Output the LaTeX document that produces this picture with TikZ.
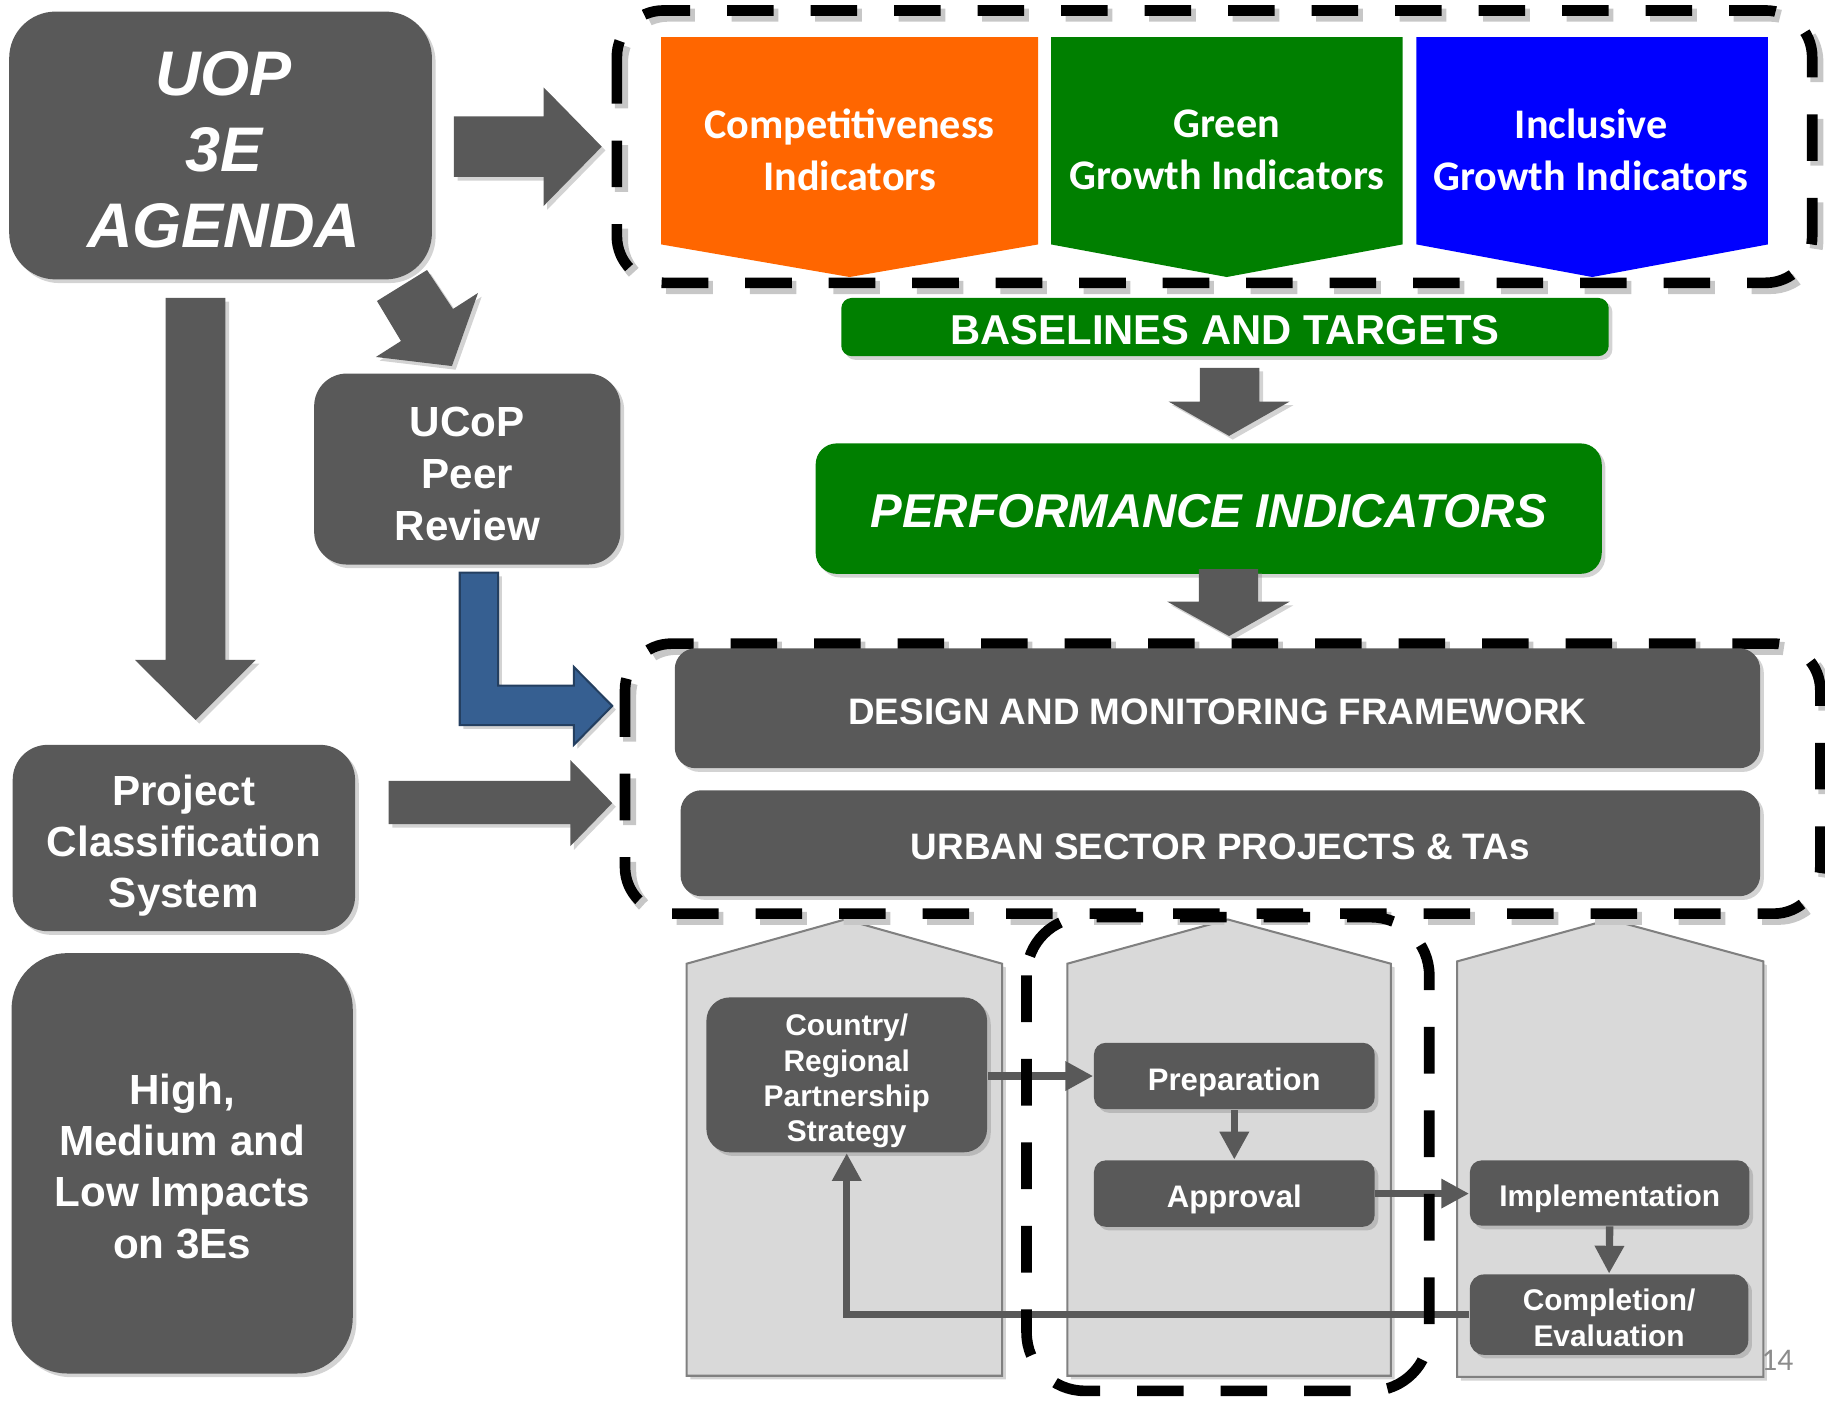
\documentclass[tikz,border=0pt]{standalone}
\usepackage{fontspec}
\setmainfont{Liberation Sans}
\newfontfamily\calibri{Carlito}
\usetikzlibrary{shadows,arrows.meta}

\definecolor{boxgray}{HTML}{595959}
\definecolor{mygreen}{HTML}{007F00}
\definecolor{myorange}{HTML}{FF6600}
\definecolor{myblue}{HTML}{0000FF}
\definecolor{steel}{HTML}{365F91}
\definecolor{steeledge}{HTML}{243F60}
\definecolor{housefill}{HTML}{D9D9D9}
\definecolor{houseline}{HTML}{808080}
\definecolor{pagegray}{HTML}{8C8C8C}

\newcommand\setfs[2]{\fontsize{#1}{#2}\selectfont}
% strut on a first line that lowers a text block by #1
\newcommand\lowerby[1]{\rule{0pt}{\dimexpr0.75em+#1*2\relax}}

\tikzset{
  every node/.style={inner sep=0pt},
  softshadow/.style={drop shadow={shadow xshift=0.9pt, shadow yshift=-0.9pt, opacity=0.35}},
  tdown/.style={execute at begin node={\lowerby{#1}}},
  gbox/.style={fill=boxgray, text=white, align=center, font=\bfseries, softshadow},
  greenbox/.style={gbox, fill=mygreen},
  blockarrow/.style={fill=boxgray, softshadow},
  dashframe/.style={line width=2.6pt, dash pattern=on 11.4pt off 9pt, black},
  dashshade/.style={line width=3.2pt, dash pattern=on 11.4pt off 9pt, black!22},
  house/.style={fill=housefill, draw=houseline, line width=0.5pt, softshadow},
  conn/.style={draw=boxgray, line width=1.8pt, -{Triangle[length=6.8pt,width=6.8pt]}},
  chevtext/.style={text=white, align=center, font=\calibri\bfseries\setfs{10.3}{12.8}},
}

\begin{document}
\begin{tikzpicture}[x=0.01cm, y=-0.01cm]
\useasboundingbox (0,0) rectangle (1568,1206);

% ---------- indicator chevrons ----------
\fill[myorange] (568,32) -- (892,32) -- (892,210) -- (730,238) -- (568,210) -- cycle;
\fill[mygreen]  (903,32) -- (1205,32) -- (1205,210) -- (1054,238) -- (903,210) -- cycle;
\fill[myblue]   (1217,32) -- (1519,32) -- (1519,210) -- (1368,238) -- (1217,210) -- cycle;
\node[chevtext] (compind) at (730,128.5) {Competitiveness\\Indicators};
\node[chevtext] (greenind) at (1054,128.5) {Green\\Growth Indicators};
\node[chevtext] (inclind) at (1367,128.5) {Inclusive\\Growth Indicators};

% dashed frame around the indicators
\draw[dashshade, rounded corners=0.4cm] (534,13) rectangle (1561,247);
\draw[dashframe, rounded corners=0.4cm] (530,9) rectangle (1557,243);

% ---------- left column ----------
\node[gbox, minimum width=3.63cm, minimum height=2.30cm, rounded corners=0.4cm,
      font=\bfseries\itshape\setfs{15.4}{18.5}] (uop) at (189.5,125)
      {\lowerby{0.6pt}\hspace*{1.5pt}UOP\\\hspace*{1.5pt}3E\\\hspace*{1.5pt}AGENDA};
\node[gbox, minimum width=2.63cm, minimum height=1.64cm, rounded corners=0.28cm,
      font=\bfseries\setfs{10.3}{12.7}] (ucop) at (401.5,403) {\lowerby{0.9pt}UCoP\\Peer\\Review};
\node[gbox, minimum width=2.94cm, minimum height=1.60cm, rounded corners=0.3cm,
      font=\bfseries\setfs{10.3}{12.5}] (pcs) at (158,720) {\lowerby{1.7pt}Project\\Classification\\System};
\node[gbox, minimum width=2.93cm, minimum height=3.61cm, rounded corners=0.48cm,
      font=\bfseries\setfs{10.3}{12.5}] (high) at (156.5,999.5) {\lowerby{0.6pt}High,\\Medium and\\Low Impacts\\on 3Es};

% ---------- centre column ----------
\node[greenbox, minimum width=6.59cm, minimum height=0.50cm, rounded corners=0.09cm, tdown=0.6pt,
      font=\bfseries\setfs{10.2}{12}] (base) at (1052.5,281) {BASELINES AND TARGETS};
\node[greenbox, minimum width=6.75cm, minimum height=1.12cm, rounded corners=0.18cm, tdown=0.4pt,
      font=\bfseries\itshape\setfs{11.6}{13}] (perf) at (1038.5,437) {PERFORMANCE INDICATORS};

% ---------- project cycle columns ----------
\path[house] (590,1182) -- (590,828) -- (726,790) -- (861,828) -- (861,1182) -- cycle;
\path[house] (917,1182) -- (917,828) -- (1055,790) -- (1195,828) -- (1195,1182) -- cycle;
\path[house] (1252,1183) -- (1252,826) -- (1383,790) -- (1515,826) -- (1515,1183) -- cycle;

% dashed frame around the framework boxes
\draw[dashshade, rounded corners=0.4cm] (541,557) rectangle (1568,789);
\draw[dashframe, rounded corners=0.4cm] (537,553) rectangle (1564,785);

\node[gbox, minimum width=9.32cm, minimum height=1.03cm, rounded corners=0.18cm, tdown=0.7pt,
      font=\bfseries\setfs{9}{11}] (dmf) at (1046,608.5) {DESIGN AND MONITORING FRAMEWORK};
\node[gbox, minimum width=9.27cm, minimum height=0.91cm, rounded corners=0.18cm, tdown=0.7pt,
      font=\bfseries\setfs{9}{11}] (usp) at (1048.5,724.5) {URBAN SECTOR PROJECTS \& TAs};

\node[gbox, minimum width=2.41cm, minimum height=1.33cm, rounded corners=0.2cm,
      font=\bfseries\setfs{7.3}{8.6}] (crps) at (727.5,923.5) {\lowerby{1.4pt}Country/\\Regional\\Partnership\\Strategy};
\node[gbox, minimum width=2.41cm, minimum height=0.57cm, rounded corners=0.1cm, tdown=1.4pt,
      font=\bfseries\setfs{7.6}{9}] (prep) at (1060.5,924.5) {Preparation};
\node[gbox, minimum width=2.41cm, minimum height=0.57cm, rounded corners=0.1cm, tdown=1.4pt,
      font=\bfseries\setfs{7.6}{9}] (appr) at (1060.5,1025.5) {Approval};
\node[gbox, minimum width=2.40cm, minimum height=0.56cm, rounded corners=0.1cm, tdown=1.4pt,
      font=\bfseries\setfs{7.3}{8.8}] (impl) at (1383,1025) {Implementation};
\node[gbox, minimum width=2.39cm, minimum height=0.69cm, rounded corners=0.12cm,
      font=\bfseries\setfs{7.3}{8.8}] (comp) at (1382.5,1129.5) {\lowerby{0.8pt}Completion/\\Evaluation};

% project cycle connectors
\draw[conn] (crps.east |- prep.west) -- (prep.west);
\draw[conn] (prep.south) -- (appr.north);
\draw[conn] (appr.east) -- (appr.east -| impl.west);
\draw[conn] (impl.south) -- (comp.north);
\draw[conn] (comp.west) -| (crps.south);

% dashed frame around preparation and approval
\draw[dashframe, rounded corners=0.5cm] (882,788) rectangle (1228,1195);

% ---------- block arrows ----------
% agenda to indicators
\fill[blockarrow] (390,100) -- (467,100) -- (467,75) -- (517,126) -- (467,177) -- (467,152) -- (390,152) -- cycle;
% agenda to peer review
\fill[blockarrow] (366.9,232) -- (389.2,265.5) -- (410.7,251.7) -- (388.3,314.5) -- (323,306.7) -- (344.5,293) -- (323.9,258.6) -- cycle;
% agenda down to classification
\fill[blockarrow] (142.3,256) -- (193.6,256) -- (193.6,567) -- (219.7,567) -- (168,618.6) -- (116,567) -- (142.3,567) -- cycle;
% classification to framework
\fill[blockarrow] (334,671) -- (490,671) -- (490,653) -- (526,690) -- (490,727) -- (490,708) -- (334,708) -- cycle;
% baselines to performance indicators
\fill[blockarrow] (1031,316) -- (1082,316) -- (1082,345) -- (1108,345) -- (1056,374.5) -- (1004,345) -- (1031,345) -- cycle;
% performance indicators to framework
\fill[blockarrow] (1030,489) -- (1081,489) -- (1081,517) -- (1108,517) -- (1056,546.5) -- (1003,517) -- (1030,517) -- cycle;
% peer review to framework
\filldraw[fill=steel, draw=steeledge, line width=0.5pt, softshadow]
  (395,492) -- (428,492) -- (428,589) -- (493,589) -- (493,573) -- (526,606.5) -- (493,640) -- (493,623) -- (395,623) -- cycle;

% page number
\node[text=pagegray, font=\calibri\setfs{7.7}{9}] (pagenum) at (1527,1168.5) {14};
\end{tikzpicture}
\end{document}
